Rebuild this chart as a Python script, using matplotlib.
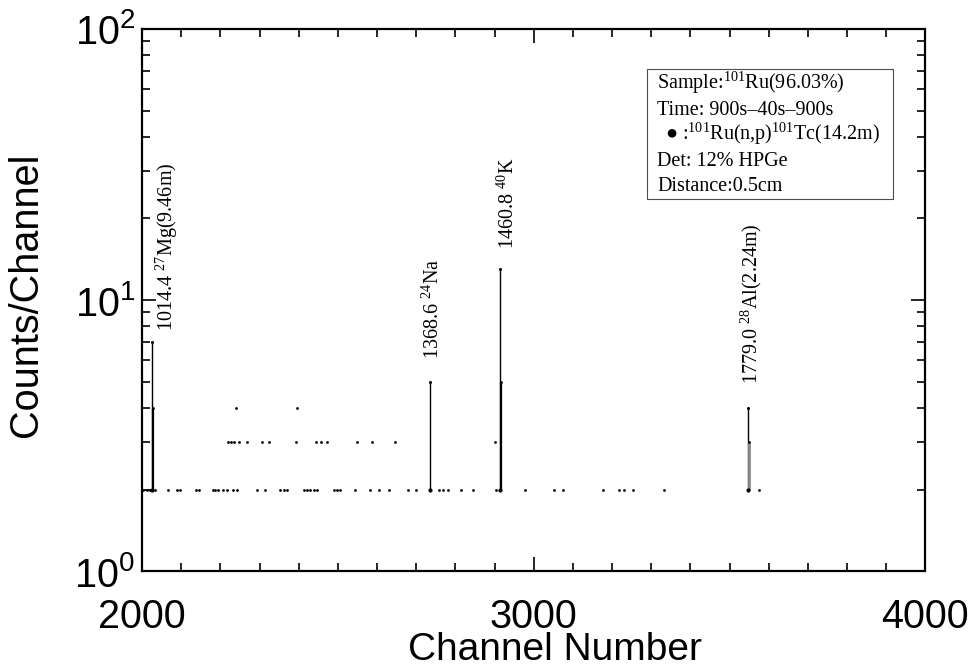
import math
import matplotlib
matplotlib.use("Agg")
import matplotlib.pyplot as plt
from matplotlib.patches import Rectangle
from matplotlib.ticker import MultipleLocator, LogLocator, FixedLocator, FuncFormatter, NullFormatter

plt.rcParams['font.family'] = ['Liberation Sans', 'DejaVu Sans']
SERIF = ['Liberation Serif', 'DejaVu Serif']

# channels sitting at the 2-count background level
bg2_ch = [2003, 2012, 2020, 2033, 2067, 2088, 2097, 2138, 2146, 2180, 2187, 2194,
          2206, 2217, 2231, 2243, 2294, 2313, 2353, 2362, 2370, 2413, 2421, 2430,
          2438, 2447, 2489, 2498, 2506, 2545, 2583, 2606, 2630, 2678, 2700, 2757,
          2769, 2782, 2814, 2844, 2904, 2978, 3052, 3075, 3178, 3218, 3231, 3254,
          3334, 3575]
# channels with 3 counts
bg3_ch = [2219, 2226, 2234, 2247, 2268, 2307, 2324, 2392, 2445, 2458, 2472,
          2549, 2587, 2647, 2900]
# channels with 4 counts
bg4_ch = [2239, 2395]

# full-energy peaks
peak_ch = [2026, 2735, 2914, 3547]
peak_counts = [7, 5, 13, 4]
peak_labels = [r'1014.4 $\mathregular{^{27}}$Mg(9.46m)',
               r'1368.6 $\mathregular{^{24}}$Na',
               r'1460.8 $\mathregular{^{40}}$K',
               r'1779.0 $\mathregular{^{28}}$Al(2.24m)']
# neighbouring channels on the peak flanks
flank_ch = [2029, 2917, 3549]
flank_counts = [4, 5, 3]

info_lines = [r'Sample:$\mathregular{^{101}}$Ru(96.03%)',
              'Time: 900s\u201340s\u2013900s',
              '\u25CF :$\\mathregular{^{101}}$Ru(n,p)$\\mathregular{^{101}}$Tc(14.2m)',
              'Det: 12% HPGe',
              'Distance:0.5cm']

BASE = 2

fig = plt.figure(figsize=(9.73, 6.72), dpi=100)
ax = fig.add_axes([0.146, 0.150, 0.805, 0.807])
ax.set_yscale('log')
ax.set_xlim(2000, 4000)
ax.set_ylim(1, 100)

# peak stems
ax.vlines(peak_ch, BASE, peak_counts, color='k', lw=1.0)
ax.vlines(flank_ch[:2], BASE, flank_counts[:2], color='k', lw=1.6)
ax.vlines(flank_ch[2:], BASE, flank_counts[2:], color='0.55', lw=2.0)

# channel contents as dots
ax.plot(bg2_ch, [2] * len(bg2_ch), 'o', color='k', ms=2.0, mew=0)
ax.plot(bg3_ch, [3] * len(bg3_ch), 'o', color='k', ms=2.0, mew=0)
ax.plot(bg4_ch, [4] * len(bg4_ch), 'o', color='k', ms=2.0, mew=0)
ax.plot(peak_ch, peak_counts, 'o', color='k', ms=2.2, mew=0)
ax.plot(peak_ch, [BASE] * len(peak_ch), 'o', color='k', ms=3.0, mew=0)
ax.plot(flank_ch, flank_counts, 'o', color='k', ms=2.0, mew=0)

# peak labels, rotated
label_off = [(15, 11), (3, 23), (8, 20), (3, 24)]
for ch, c, lbl, (dx, dy) in zip(peak_ch, peak_counts, peak_labels, label_off):
    ax.annotate(lbl, xy=(ch, c), xytext=(dx, dy), textcoords='offset pixels',
                rotation=90, ha='center', va='bottom', family=SERIF, fontsize=14.5)

# info box
ax.add_patch(Rectangle((0.645, 0.686), 0.314, 0.240, transform=ax.transAxes,
                       fill=False, ec='0.3', lw=0.8))
for i, line in enumerate(info_lines):
    x0 = 0.668 if i == 2 else 0.658
    ax.text(x0, 0.889 - i * 0.0472, line, transform=ax.transAxes,
            family=SERIF, fontsize=14.5, va='baseline', ha='left')

# axes cosmetics
for s in ax.spines.values():
    s.set_linewidth(1.6)
ax.xaxis.set_major_locator(FixedLocator([2000, 3000, 4000]))
ax.xaxis.set_minor_locator(MultipleLocator(100))
ax.yaxis.set_major_locator(LogLocator(base=10))
ax.yaxis.set_minor_locator(LogLocator(base=10, subs=range(2, 10)))
ax.yaxis.set_minor_formatter(NullFormatter())
ax.yaxis.set_major_formatter(
    FuncFormatter(lambda v, p: r'$\mathregular{10^{%d}}$' % round(math.log10(v))))
ax.tick_params(which='both', direction='in', top=True, right=True, width=1.2)
ax.tick_params(which='major', length=10, labelsize=28.5)
ax.tick_params(which='minor', length=6)
ax.tick_params(axis='x', which='major', pad=19)
ax.tick_params(axis='y', which='major', pad=5)

ax.set_xlabel('Channel Number', fontsize=28)
ax.set_ylabel('Counts/Channel', fontsize=28.5)
ax.xaxis.set_label_coords(0.527, -0.113)
ax.yaxis.set_label_coords(-0.148, 0.51)
ax.yaxis.label.set_verticalalignment('center')

fig.savefig('out.png', dpi=100)
